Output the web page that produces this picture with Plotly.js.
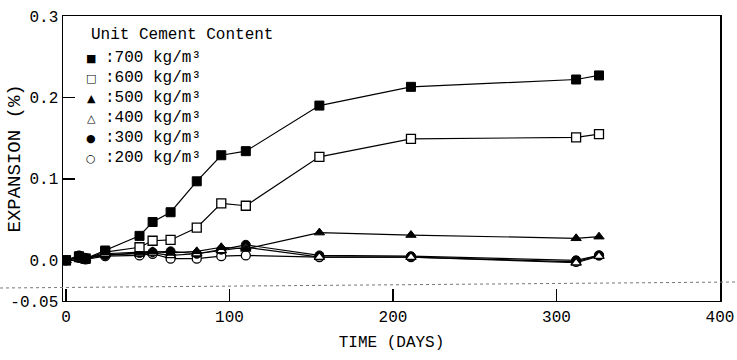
<!DOCTYPE html>
<html>
<head>
<meta charset="utf-8">
<script src="https://cdn.plot.ly/plotly-3.0.1.min.js"></script>
<style>html,body{margin:0;padding:0;background:#fff;}#chart{width:737px;height:360px;}</style>
</head>
<body>
<div id="chart"></div>
<script>
// Time in days
const days = [0, 8, 12, 24, 45, 53, 64, 80, 95, 110, 155, 211, 312, 326];
// Expansion (%) per unit cement content
const exp700 = [0, 0.005, 0.002, 0.012, 0.030, 0.047, 0.059, 0.097, 0.129, 0.134, 0.190, 0.213, 0.222, 0.227];
const exp600 = [0, 0.004, 0.002, 0.010, 0.016, 0.024, 0.025, 0.040, 0.070, 0.067, 0.127, 0.149, 0.151, 0.155];
const exp500 = [0, 0.004, 0.002, 0.008, 0.010, 0.011, 0.009, 0.011, 0.016, 0.014, 0.034, 0.031, 0.027, 0.029];
const exp400 = [0, 0.004, 0.002, 0.007, 0.008, 0.009, 0.006, 0.008, 0.012, 0.016, 0.004, 0.004, -0.003, 0.005];
const exp300 = [0, 0.006, 0.003, 0.006, 0.009, 0.010, 0.011, 0.008, 0.013, 0.019, 0.006, 0.005, 0.000, 0.006];
const exp200 = [0, 0.003, 0.001, 0.005, 0.006, 0.008, 0.002, 0.002, 0.005, 0.006, 0.004, 0.004, -0.002, 0.006];
const seriesNames = [":700 kg/m³", ":600 kg/m³", ":500 kg/m³", ":400 kg/m³", ":300 kg/m³", ":200 kg/m³"];
const legendSymbols = ["■", "□", "▲", "△", "●", "○"];
const legendTitle = "Unit Cement Content";
const yTickVals = [-0.05, 0, 0.1, 0.2, 0.3];
const yTickText = ["-0.05", "0.0", "0.1", "0.2", "0.3"];
const xTickVals = [0, 100, 200, 300, 400];

const FONT = "'Liberation Mono', 'Courier New', monospace";
const allSeries = [exp700, exp600, exp500, exp400, exp300, exp200];
const markerStyles = [
  {symbol: "square", size: 9, color: "#000", line: {color: "#000", width: 1}},
  {symbol: "square", size: 9, color: "#fff", line: {color: "#000", width: 1.3}},
  {symbol: "triangle-up", size: 9, color: "#000", line: {color: "#000", width: 1}},
  {symbol: "triangle-up", size: 9, color: "#fff", line: {color: "#000", width: 1.3}},
  {symbol: "circle", size: 9, color: "#000", line: {color: "#000", width: 1}},
  {symbol: "circle", size: 9, color: "#fff", line: {color: "#000", width: 1.3}}
];

const traces = [];
for (let i = allSeries.length - 1; i >= 0; i--) {
  traces.push({
    x: days, y: allSeries[i], name: seriesNames[i],
    type: "scatter", mode: "lines+markers",
    line: {color: "#000", width: 1.2},
    marker: markerStyles[i],
    showlegend: false, hoverinfo: "x+y"
  });
}

const L = 63, T = 16, W = 657.5, H = 285;
const annotations = [];
annotations.push({
  xref: "paper", yref: "paper", x: 0, y: 1, xanchor: "left", yanchor: "middle",
  xshift: 89 - L, yshift: -(35 - T), showarrow: false, text: legendTitle,
  font: {family: FONT, size: 16, color: "#000"}
});
const rowsY = [58, 78, 98, 118, 138, 158];
for (let i = 0; i < seriesNames.length; i++) {
  annotations.push({
    xref: "paper", yref: "paper", x: 0, y: 1, xanchor: "center", yanchor: "middle",
    xshift: 91 - L, yshift: -(rowsY[i] - T), showarrow: false, text: legendSymbols[i],
    font: {family: "DejaVu Sans", size: 11, color: "#000"}
  });
  annotations.push({
    xref: "paper", yref: "paper", x: 0, y: 1, xanchor: "left", yanchor: "middle",
    xshift: 103 - L, yshift: -(rowsY[i] - T), showarrow: false, text: seriesNames[i],
    font: {family: FONT, size: 16, color: "#000"}
  });
}
// y-axis title placed as annotation to match the reference position
annotations.push({
  xref: "paper", yref: "paper", x: 0, y: 0.5, xanchor: "center", yanchor: "middle",
  xshift: 14 - L, showarrow: false, text: "EXPANSION (%)", textangle: -90,
  font: {family: FONT, size: 19, color: "#000"}
});

const layout = {
  width: 737, height: 360,
  margin: {l: L, r: 737 - L - W, t: T, b: 360 - T - H, pad: 0},
  paper_bgcolor: "#fff", plot_bgcolor: "#fff",
  showlegend: false,
  font: {family: FONT, size: 16, color: "#000"},
  xaxis: {
    range: [-1.8, 400], tickvals: xTickVals, ticks: "inside", ticklen: 12, tickwidth: 1.5,
    tickcolor: "#000", showline: true, linecolor: "#000", linewidth: 1.3, mirror: true,
    showgrid: false, zeroline: false,
    tickfont: {family: FONT, size: 16, color: "#000"},
    title: {text: "TIME (DAYS)", font: {family: FONT, size: 16, color: "#000"}, standoff: 10}
  },
  yaxis: {
    range: [-0.05, 0.3], tickvals: yTickVals, ticktext: yTickText, ticks: "inside", ticklen: 12,
    tickwidth: 1.3, tickcolor: "#000", showline: true, linecolor: "#000", linewidth: 1.5, mirror: true,
    showgrid: false, zeroline: false,
    tickfont: {family: FONT, size: 16, color: "#000"}
  },
  shapes: [{
    type: "line", xref: "paper", yref: "paper",
    x0: -L / W, x1: (737 - L) / W, y0: (301 - 288) / H, y1: (301 - 282) / H,
    line: {color: "#777", width: 1, dash: "dot"}
  }],
  annotations: annotations
};

Plotly.newPlot("chart", traces, layout, {staticPlot: true, displayModeBar: false});
</script>
</body>
</html>
